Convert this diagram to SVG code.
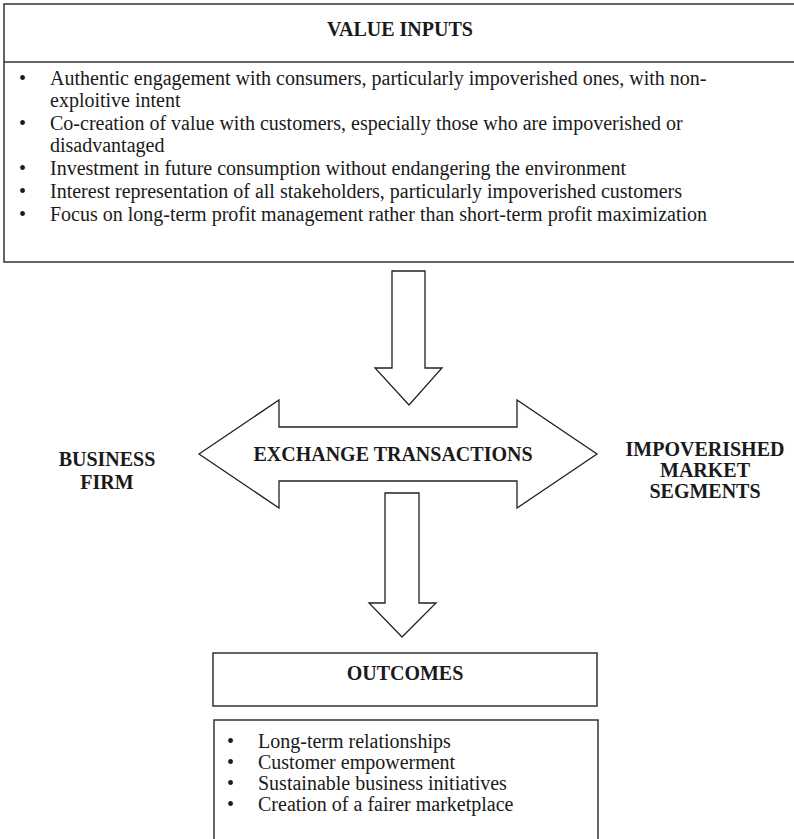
<svg xmlns="http://www.w3.org/2000/svg" width="794" height="839" viewBox="0 0 794 839">
<style>
.box{fill:#fff;stroke:#333;stroke-width:1.5}
.arr{fill:#fff;stroke:#222;stroke-width:1.3;stroke-linejoin:miter}
.t{font-family:"Liberation Serif","Times New Roman",serif;font-size:20px;fill:#1a1a1a}
.b{font-family:"Liberation Serif","Times New Roman",serif;font-size:20px;font-weight:bold;fill:#1a1a1a}
.h{text-anchor:middle}
</style>
<rect width="794" height="839" fill="#fff"/>
<g id="value-inputs">
<rect class="box" x="4" y="4" width="795" height="258"/>
<line x1="4" y1="62" x2="799" y2="62" stroke="#333" stroke-width="1.5"/>
<text class="b h" x="400" y="36">VALUE INPUTS</text>
<g class="t">
<text x="19" y="85">•</text><text x="50" y="85">Authentic engagement with consumers, particularly impoverished ones, with non-</text>
<text x="50" y="107">exploitive intent</text>
<text x="19" y="130">•</text><text x="50" y="130">Co-creation of value with customers, especially those who are impoverished or</text>
<text x="50" y="152">disadvantaged</text>
<text x="19" y="175">•</text><text x="50" y="175">Investment in future consumption without endangering the environment</text>
<text x="19" y="198">•</text><text x="50" y="198">Interest representation of all stakeholders, particularly impoverished customers</text>
<text x="19" y="221">•</text><text x="50" y="221">Focus on long-term profit management rather than short-term profit maximization</text>
</g>
</g>
<g id="connectors">
<polygon id="arrow-down-1" class="arr" points="392,271 425,271 425,368 442,368 409,405 375,368 392,368"/>
<polygon id="arrow-down-2" class="arr" points="385,493 419,493 419,603 436,603 402,637 369,603 385,603"/>
</g>
<g id="exchange-transactions">
<polygon class="arr" points="199,454 279,400 279,427 517,427 517,400 597,454 517,508 517,481 279,481 279,508"/>
<text class="b h" x="393" y="461">EXCHANGE TRANSACTIONS</text>
</g>
<g id="business-firm">
<text class="b h" x="107" y="466">BUSINESS</text>
<text class="b h" x="107" y="489">FIRM</text>
</g>
<g id="impoverished-market-segments">
<text class="b h" x="705" y="456">IMPOVERISHED</text>
<text class="b h" x="705" y="477">MARKET</text>
<text class="b h" x="705" y="498">SEGMENTS</text>
</g>
<g id="outcomes">
<rect class="box" x="213" y="653" width="384" height="53"/>
<text class="b h" x="405" y="680">OUTCOMES</text>
</g>
<g id="outcomes-list">
<rect class="box" x="214" y="720" width="384" height="130"/>
<g class="t">
<text x="227" y="748">•</text><text x="258" y="748">Long-term relationships</text>
<text x="227" y="769">•</text><text x="258" y="769">Customer empowerment</text>
<text x="227" y="790">•</text><text x="258" y="790">Sustainable business initiatives</text>
<text x="227" y="811">•</text><text x="258" y="811">Creation of a fairer marketplace</text>
</g>
</g>
</svg>
